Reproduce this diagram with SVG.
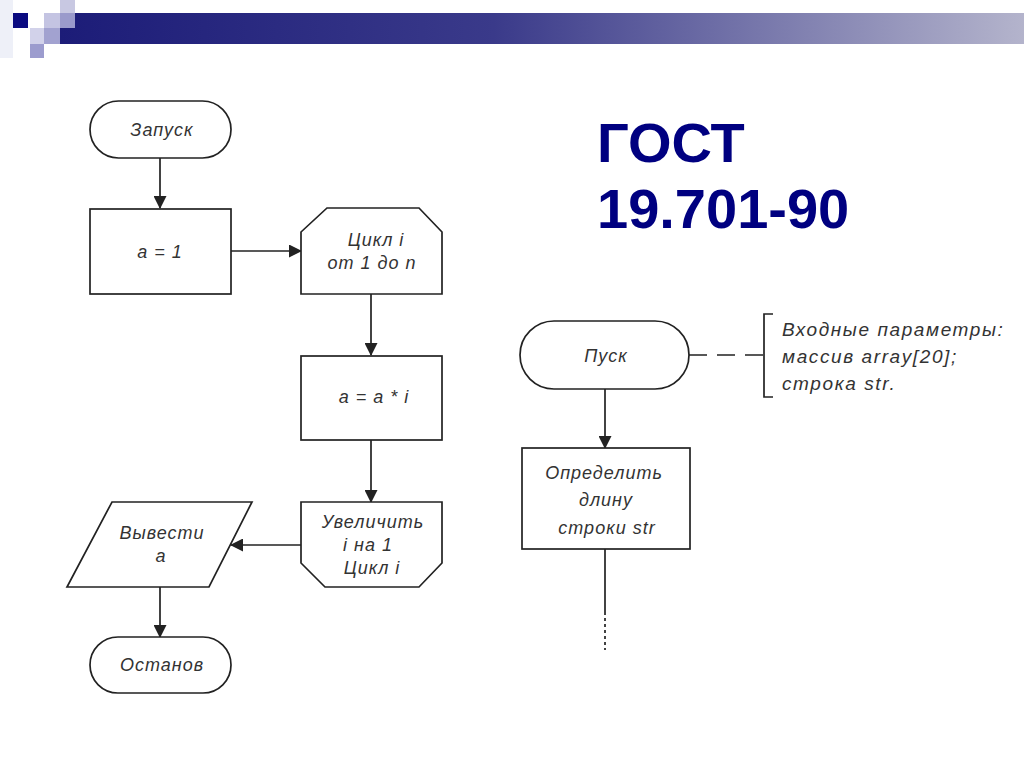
<svg xmlns="http://www.w3.org/2000/svg" width="1024" height="767" viewBox="0 0 1024 767">
<defs>
<linearGradient id="bar" x1="0" y1="0" x2="1" y2="0">
<stop offset="0" stop-color="#1c1c78"/>
<stop offset="0.45" stop-color="#3a3a8a"/>
<stop offset="1" stop-color="#b4b4cc"/>
</linearGradient>
<marker id="ah" markerWidth="13" markerHeight="13" refX="12" refY="6.5" orient="auto" markerUnits="userSpaceOnUse">
<path d="M0,0 L13,6.5 L0,13 Z" fill="#222"/>
</marker>
<style>
.s{fill:#fff;stroke:#222;stroke-width:1.7}
.t{font-family:"Liberation Sans",Arial,sans-serif;font-style:italic;font-size:18px;fill:#333;text-anchor:middle;letter-spacing:1px}
.m{font-size:19px;letter-spacing:1.6px;text-anchor:start}
.c{fill:none;stroke:#222;stroke-width:1.7}
.g{font-family:"Liberation Sans",Arial,sans-serif;font-weight:bold;font-size:56px;fill:#000080}
</style>
</defs>
<rect width="1024" height="767" fill="#fff"/>
<g id="header">
<rect x="0" y="0" width="13" height="58" fill="#eef0f8"/>
<rect x="60" y="13" width="964" height="31" fill="url(#bar)"/>
<rect x="13" y="13" width="15" height="15" fill="#0a0a80"/>
<rect x="60" y="0" width="15" height="13" fill="#c8c8e2"/>
<rect x="44" y="13" width="16" height="15" fill="#c4c4e2"/>
<rect x="60" y="13" width="15" height="15" fill="#9a9acb"/>
<rect x="30" y="28" width="14" height="16" fill="#d2d2ea"/>
<rect x="44" y="28" width="16" height="16" fill="#a2a2d0"/>
<rect x="30" y="44" width="14" height="14" fill="#9c9cce"/>
</g>
<g id="gost">
<text class="g" x="597" y="162">ГОСТ</text>
<text class="g" x="597" y="228">19.701-90</text>
</g>
<g id="connectors">
<line class="c" x1="160" y1="158" x2="160" y2="208" marker-end="url(#ah)"/>
<line class="c" x1="231" y1="251" x2="301" y2="251" marker-end="url(#ah)"/>
<line class="c" x1="371" y1="294" x2="371" y2="355" marker-end="url(#ah)"/>
<line class="c" x1="371" y1="440" x2="371" y2="502" marker-end="url(#ah)"/>
<line class="c" x1="301" y1="545" x2="231" y2="545" marker-end="url(#ah)"/>
<line class="c" x1="160" y1="587" x2="160" y2="637" marker-end="url(#ah)"/>
<line class="c" x1="605" y1="389" x2="605" y2="448" marker-end="url(#ah)"/>
<line class="c" x1="605" y1="549" x2="605" y2="612"/>
<line class="c" x1="605" y1="612" x2="605" y2="650" stroke-dasharray="3,3"/>
<line class="c" x1="689" y1="355" x2="764" y2="355" stroke-dasharray="18,10"/>
<path class="c" d="M773,314 L764,314 L764,397 L773,397"/>
</g>
<g id="start">
<rect class="s" x="90" y="101" width="141" height="57" rx="28.5"/>
<text class="t" x="162" y="136">Запуск</text>
</g>
<g id="assign">
<rect class="s" x="90" y="209" width="141" height="85"/>
<text class="t" x="160" y="258">a = 1</text>
</g>
<g id="loopstart">
<path class="s" d="M327,208 L419,208 L442,232 L442,294 L301,294 L301,232 Z"/>
<text class="t" x="376" y="246">Цикл i</text>
<text class="t" x="372" y="269">от 1 до n</text>
</g>
<g id="mult">
<rect class="s" x="301" y="356" width="141" height="84"/>
<text class="t" x="374" y="403">a = a * i</text>
</g>
<g id="loopend">
<path class="s" d="M301,502 L442,502 L442,563 L419,587 L325,587 L301,563 Z"/>
<text class="t" x="373" y="528">Увеличить</text>
<text class="t" x="368" y="551">i на 1</text>
<text class="t" x="372" y="574">Цикл i</text>
</g>
<g id="output">
<path class="s" d="M112,502 L252,502 L209,587 L67,587 Z"/>
<text class="t" x="162" y="539">Вывести</text>
<text class="t" x="161" y="562">a</text>
</g>
<g id="stop">
<rect class="s" x="90" y="637" width="141" height="56" rx="28"/>
<text class="t" x="162" y="671">Останов</text>
</g>
<g id="pusk">
<rect class="s" x="520" y="321" width="169" height="68" rx="34"/>
<text class="t" x="606" y="362">Пуск</text>
</g>
<g id="comment">
<text class="t m" x="782" y="336">Входные параметры:</text>
<text class="t m" x="782" y="363">массив array[20];</text>
<text class="t m" x="782" y="390">строка str.</text>
</g>
<g id="strlen">
<rect class="s" x="522" y="448" width="168" height="101"/>
<text class="t" x="604" y="479">Определить</text>
<text class="t" x="606" y="506">длину</text>
<text class="t" x="607" y="534">строки str</text>
</g>
</svg>
